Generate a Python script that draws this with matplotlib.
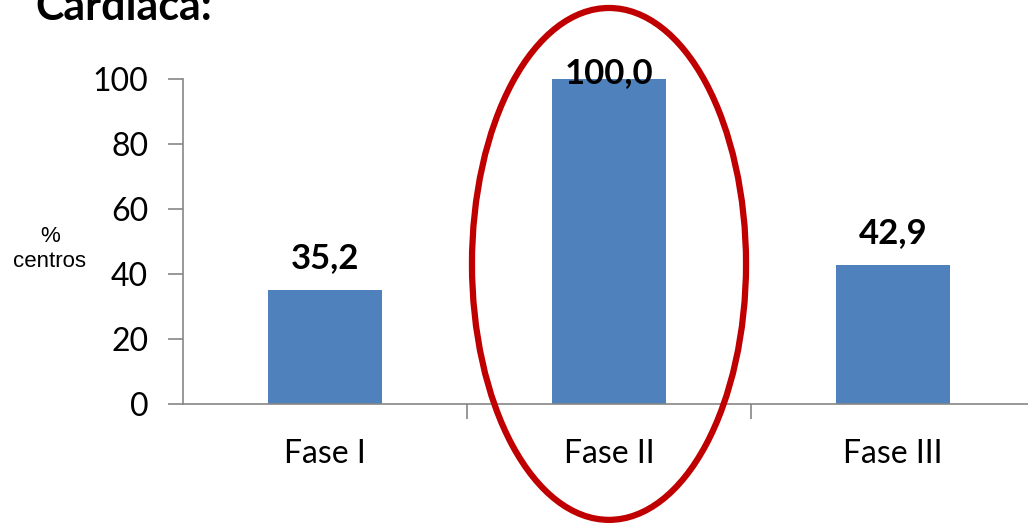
import matplotlib
matplotlib.use("Agg")
import matplotlib.pyplot as plt
from matplotlib.patches import Ellipse

# datos del grafico
fases = ["Fase I", "Fase II", "Fase III"]
porcentaje = [35.2, 100.0, 42.9]
etiquetas = ["35,2", "100,0", "42,9"]

plt.rcParams["font.family"] = ["Lato", "DejaVu Sans"]

fig = plt.figure(figsize=(10.28, 5.26), dpi=100)
ax = fig.add_axes([183 / 1028, 122 / 526, 852 / 1028, 325 / 526])

x = range(len(fases))
ax.bar(x, porcentaje, width=0.4, color="#4F81BD", zorder=2)

for i, v in enumerate(porcentaje):
    y_txt = min(v + 6.7, 98.8)
    ax.text(i, y_txt, etiquetas[i], ha="center", va="baseline",
            fontsize=25, fontweight="bold")

ax.set_xlim(-0.5, 2.5)
ax.set_ylim(0, 100)
ax.set_yticks(range(0, 101, 20))
ax.set_xticks([0.5, 1.5])
ax.set_xticklabels([])
ax.tick_params(axis="x", length=11, color="#868686", width=1.2)
ax.tick_params(axis="y", length=11, color="#868686", width=1.2, labelsize=23, pad=14)
for i, f in enumerate(fases):
    ax.text(i, -18.2, f, ha="center", va="baseline", fontsize=23)

for s in ["top", "right"]:
    ax.spines[s].set_visible(False)
for s in ["left", "bottom"]:
    ax.spines[s].set_color("#868686")
    ax.spines[s].set_linewidth(1.2)

# elipse roja alrededor de la Fase II
elipse = Ellipse((1, 43.1), 0.965, 157.5, fill=False, edgecolor="#C00000",
                 linewidth=4.5, clip_on=False, zorder=3)
ax.add_patch(elipse)

fig.text(50 / 1028, 1 - 249 / 526, "%\ncentros", ha="center", va="center",
         fontsize=16, family="Liberation Sans", linespacing=1.2)
fig.text(35 / 1028, 1 - 20 / 526, "Cardiaca:", ha="left", va="baseline",
         fontsize=31, fontweight="bold")

fig.savefig("out.png", dpi=100)
